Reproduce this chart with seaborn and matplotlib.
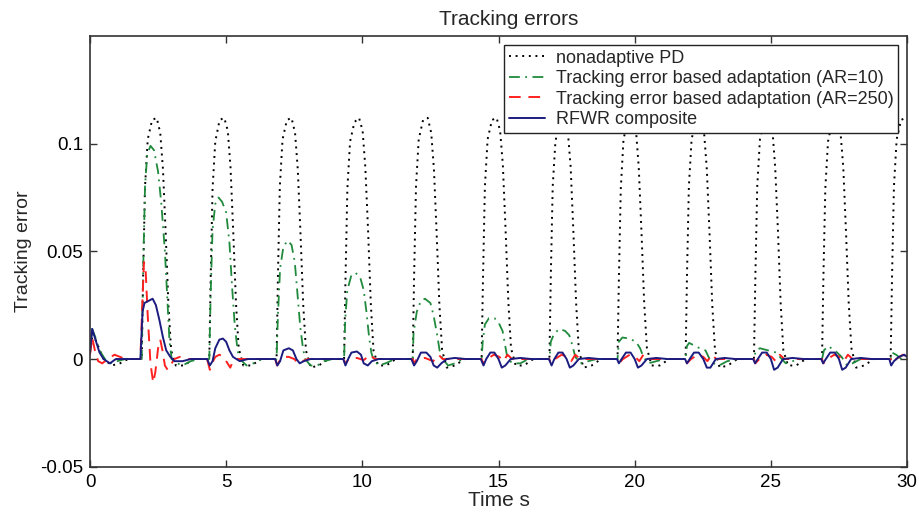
import matplotlib
matplotlib.use("Agg")
import matplotlib.pyplot as plt
import seaborn as sns

# ── Data (time in s, tracking error) ────────────────────────────────────────
pd_t = [0.00, 0.10, 0.30, 0.50, 0.80, 1.10, 1.40,
        1.90, 1.95, 2.02, 2.12, 2.28, 2.45, 2.58, 2.68, 2.78, 2.88, 2.98, 3.15, 3.45, 3.80,
        4.38, 4.43, 4.50, 4.60, 4.76, 4.93, 5.06, 5.16, 5.26, 5.36, 5.46, 5.63, 5.93, 6.28,
        6.85, 6.90, 6.97, 7.07, 7.23, 7.40, 7.53, 7.63, 7.73, 7.83, 7.93, 8.10, 8.40, 8.75,
        9.33, 9.38, 9.45, 9.55, 9.71, 9.88, 10.01, 10.11, 10.21, 10.31, 10.41, 10.58, 10.88, 11.23,
        11.85, 11.90, 11.97, 12.07, 12.23, 12.40, 12.53, 12.63, 12.73, 12.83, 12.93, 13.10, 13.40, 13.75,
        14.38, 14.43, 14.50, 14.60, 14.76, 14.93, 15.06, 15.16, 15.26, 15.36, 15.46, 15.63, 15.93, 16.28,
        16.87, 16.92, 16.99, 17.09, 17.25, 17.42, 17.55, 17.65, 17.75, 17.85, 17.95, 18.12, 18.42, 18.77,
        19.37, 19.42, 19.49, 19.59, 19.75, 19.92, 20.05, 20.15, 20.25, 20.35, 20.45, 20.62, 20.92, 21.27,
        21.87, 21.92, 21.99, 22.09, 22.25, 22.42, 22.55, 22.65, 22.75, 22.85, 22.95, 23.12, 23.42, 23.77,
        24.38, 24.43, 24.50, 24.60, 24.76, 24.93, 25.06, 25.16, 25.26, 25.36, 25.46, 25.63, 25.93, 26.28,
        26.88, 26.93, 27.00, 27.10, 27.26, 27.43, 27.56, 27.66, 27.76, 27.86, 27.96, 28.13, 28.43, 28.78,
        29.40, 29.45, 29.52, 29.62, 29.78, 29.95, 30.00]
pd_v = [0.003, 0.012, 0.006, 0.000, -0.003, -0.002, 0.000,
        0.000, 0.038, 0.080, 0.102, 0.111, 0.112, 0.105, 0.088, 0.058, 0.025, 0.004, -0.003, -0.003, 0.000,
        0.000, 0.037, 0.079, 0.101, 0.111, 0.112, 0.106, 0.089, 0.059, 0.026, 0.005, -0.003, -0.003, 0.000,
        0.000, 0.038, 0.080, 0.102, 0.111, 0.112, 0.105, 0.088, 0.058, 0.025, 0.004, -0.004, -0.003, 0.000,
        0.000, 0.036, 0.079, 0.101, 0.110, 0.112, 0.106, 0.089, 0.060, 0.026, 0.004, -0.003, -0.003, 0.000,
        0.000, 0.038, 0.080, 0.102, 0.111, 0.112, 0.105, 0.088, 0.058, 0.025, 0.004, -0.004, -0.003, 0.000,
        0.000, 0.037, 0.080, 0.102, 0.111, 0.112, 0.106, 0.090, 0.060, 0.027, 0.005, -0.003, -0.003, 0.000,
        0.000, 0.038, 0.080, 0.101, 0.111, 0.112, 0.105, 0.089, 0.059, 0.026, 0.004, -0.004, -0.003, 0.000,
        0.000, 0.037, 0.079, 0.102, 0.111, 0.112, 0.106, 0.089, 0.059, 0.026, 0.005, -0.003, -0.003, 0.000,
        0.000, 0.038, 0.080, 0.102, 0.111, 0.112, 0.105, 0.088, 0.058, 0.025, 0.004, -0.004, -0.003, 0.000,
        0.000, 0.037, 0.080, 0.102, 0.111, 0.112, 0.106, 0.089, 0.060, 0.026, 0.004, -0.003, -0.003, 0.000,
        0.000, 0.038, 0.079, 0.101, 0.111, 0.112, 0.105, 0.089, 0.059, 0.026, 0.005, -0.004, -0.003, 0.000,
        0.000, 0.038, 0.080, 0.102, 0.111, 0.112, 0.112]

ar10_t = [0.00, 0.08, 0.20, 0.35, 0.55, 0.75, 1.00, 1.30,
          1.90, 1.95, 2.02, 2.10, 2.22, 2.35, 2.50, 2.62, 2.75, 2.85, 2.92, 3.00, 3.20, 3.40, 3.70, 4.00,
          4.38, 4.43, 4.50, 4.60, 4.72, 4.85, 5.00, 5.12, 5.22, 5.32, 5.42, 5.50, 5.75, 6.00, 6.30,
          6.85, 6.90, 6.98, 7.10, 7.25, 7.40, 7.52, 7.62, 7.72, 7.82, 7.90, 8.10, 8.35, 8.60, 8.90,
          9.33, 9.37, 9.45, 9.60, 9.75, 9.92, 10.05, 10.15, 10.25, 10.33, 10.40, 10.60, 10.85, 11.20,
          11.85, 11.88, 12.00, 12.15, 12.30, 12.50, 12.62, 12.75, 12.85, 12.95, 13.15, 13.40, 13.70,
          14.38, 14.42, 14.50, 14.65, 14.85, 15.00, 15.15, 15.25, 15.32, 15.50, 15.80, 16.10,
          16.87, 16.92, 17.05, 17.25, 17.45, 17.60, 17.72, 17.82, 18.00, 18.30, 18.60,
          19.37, 19.42, 19.55, 19.80, 20.05, 20.20, 20.32, 20.50, 20.80, 21.10,
          21.87, 21.92, 22.00, 22.30, 22.60, 22.75, 22.90, 23.10, 23.40, 23.80,
          24.38, 24.45, 24.60, 24.90, 25.20, 25.40, 25.55, 25.80, 26.10,
          26.88, 26.95, 27.10, 27.35, 27.60, 27.80, 28.00, 28.30,
          29.40, 29.45, 29.60, 29.80, 30.00]
ar10_v = [0.003, 0.014, 0.010, 0.004, 0.000, -0.002, -0.001, 0.000,
          0.000, 0.040, 0.080, 0.095, 0.099, 0.097, 0.087, 0.072, 0.050, 0.025, 0.008, 0.000, -0.002, -0.003, -0.001, 0.000,
          0.000, 0.030, 0.060, 0.072, 0.075, 0.073, 0.068, 0.054, 0.033, 0.015, 0.004, 0.000, -0.003, -0.002, 0.000,
          0.000, 0.020, 0.042, 0.052, 0.055, 0.053, 0.045, 0.030, 0.015, 0.005, 0.000, -0.003, -0.003, -0.001, 0.000,
          0.000, 0.018, 0.032, 0.039, 0.040, 0.038, 0.032, 0.022, 0.010, 0.003, 0.000, -0.003, -0.002, 0.000,
          0.000, 0.012, 0.022, 0.027, 0.028, 0.026, 0.020, 0.011, 0.003, 0.000, -0.003, -0.002, 0.000,
          0.000, 0.008, 0.016, 0.019, 0.019, 0.017, 0.013, 0.006, 0.001, -0.002, -0.002, 0.000,
          0.000, 0.008, 0.012, 0.014, 0.013, 0.011, 0.006, 0.001, -0.002, -0.001, 0.000,
          0.000, 0.008, 0.010, 0.0095, 0.008, 0.005, 0.001, -0.002, -0.001, 0.000,
          0.000, 0.006, 0.0075, 0.0055, 0.004, 0.000, -0.002, -0.003, -0.001, 0.000,
          0.000, 0.004, 0.005, 0.004, 0.003, 0.000, -0.002, -0.001, 0.000,
          0.000, 0.004, 0.006, 0.004, 0.001, -0.003, -0.002, 0.000,
          0.000, 0.003, 0.002, 0.000, 0.000]

ar250_t = [0.00, 0.08, 0.18, 0.30, 0.45, 0.65, 0.90, 1.10, 1.30,
           1.85, 1.92, 1.98, 2.04, 2.12, 2.22, 2.32, 2.40, 2.50, 2.58, 2.66, 2.75, 2.85, 2.95, 3.10, 3.30, 3.60,
           4.30, 4.40, 4.48, 4.60, 4.75, 4.90, 5.05, 5.15, 5.25, 5.40,
           6.80, 6.87, 6.95, 7.10, 7.30, 7.50, 7.65, 7.80, 8.00,
           9.30, 9.38, 9.50, 9.80, 10.05, 10.30, 10.45,
           11.85, 11.90, 12.00, 12.30, 12.60, 12.80, 12.95,
           14.38, 14.43, 14.58, 14.83, 15.03, 15.18, 15.33, 15.50,
           16.87, 16.92, 17.07, 17.32, 17.52, 17.67, 17.82, 18.00,
           19.37, 19.42, 19.57, 19.82, 20.02, 20.17, 20.32, 20.50,
           21.87, 21.92, 22.07, 22.32, 22.52, 22.67, 22.82, 23.00,
           24.38, 24.43, 24.58, 24.83, 25.03, 25.18, 25.33, 25.50,
           26.88, 26.93, 27.08, 27.33, 27.53, 27.68, 27.83, 28.00,
           29.40, 29.45, 29.60, 29.85, 30.00]
ar250_v = [0.002, 0.010, 0.004, -0.001, -0.002, 0.000, 0.002, 0.001, 0.000,
           0.000, 0.025, 0.045, 0.042, 0.020, -0.002, -0.011, -0.006, 0.005, 0.009, 0.004, -0.003, -0.005, -0.003, 0.000, 0.001, 0.000,
           0.000, -0.005, -0.002, 0.001, 0.002, 0.001, -0.002, -0.004, -0.001, 0.000,
           0.000, -0.003, -0.001, 0.001, 0.001, 0.000, -0.002, -0.001, 0.000,
           0.000, -0.002, 0.000, 0.0005, -0.0005, 0.002, 0.000,
           0.000, -0.002, 0.000, 0.0005, -0.001, 0.002, 0.000,
           0.000, -0.002, 0.000, 0.002, 0.001, -0.001, 0.002, 0.000,
           0.000, -0.002, 0.000, 0.002, 0.001, -0.001, 0.002, 0.000,
           0.000, -0.002, 0.000, 0.002, 0.001, -0.001, 0.002, 0.000,
           0.000, -0.002, 0.000, 0.002, 0.001, -0.001, 0.002, 0.000,
           0.000, -0.002, 0.000, 0.002, 0.001, -0.001, 0.002, 0.000,
           0.000, -0.002, 0.000, 0.002, 0.001, -0.001, 0.002, 0.000,
           0.000, -0.002, 0.000, 0.002, 0.001]

rfwr_t = [0.00, 0.08, 0.20, 0.35, 0.50, 0.73, 0.95,
          1.85, 1.93, 2.00, 2.15, 2.30, 2.42, 2.55, 2.68, 2.80, 2.95, 3.10, 3.40, 3.70,
          4.30, 4.40, 4.50, 4.60, 4.75, 4.88, 5.00, 5.12, 5.25, 5.50, 5.80,
          6.80, 6.88, 6.98, 7.10, 7.30, 7.45, 7.58, 7.70, 7.85, 8.10,
          9.30, 9.38, 9.48, 9.60, 9.80, 9.95, 10.05, 10.20, 10.35, 10.60,
          11.80, 11.90, 12.00, 12.15, 12.35, 12.50, 12.62, 12.75, 12.90, 13.10, 13.40, 13.80,
          14.35, 14.45, 14.55, 14.70, 14.85, 15.00, 15.12, 15.25, 15.45, 15.80, 16.20,
          16.85, 16.95, 17.05, 17.20, 17.35, 17.50, 17.62, 17.75, 17.95, 18.30, 18.70,
          19.35, 19.42, 19.52, 19.68, 19.85, 20.00, 20.12, 20.25, 20.45, 20.80, 21.20,
          21.85, 21.92, 22.02, 22.18, 22.35, 22.52, 22.65, 22.78, 22.98, 23.30, 23.70,
          24.35, 24.42, 24.52, 24.68, 24.85, 25.00, 25.12, 25.25, 25.45, 25.80, 26.20,
          26.85, 26.92, 27.02, 27.18, 27.35, 27.50, 27.62, 27.75, 27.95, 28.30, 28.70,
          29.35, 29.42, 29.52, 29.70, 29.90, 30.00]
rfwr_v = [0.003, 0.014, 0.009, 0.003, 0.000, -0.002, 0.000,
          0.000, 0.022, 0.026, 0.027, 0.028, 0.025, 0.018, 0.010, 0.004, 0.001, -0.001, -0.001, 0.000,
          0.000, -0.003, -0.001, 0.005, 0.009, 0.0095, 0.008, 0.004, 0.001, -0.001, 0.000,
          0.000, -0.003, -0.001, 0.004, 0.005, 0.004, 0.000, -0.002, -0.001, 0.000,
          0.000, -0.003, 0.000, 0.003, 0.0035, 0.002, -0.002, -0.003, -0.001, 0.000,
          0.000, -0.003, -0.001, 0.003, 0.003, 0.001, -0.003, -0.004, -0.002, 0.000, 0.0005, 0.000,
          0.000, -0.003, 0.000, 0.003, 0.003, 0.000, -0.004, -0.003, 0.000, 0.0005, 0.000,
          0.000, -0.003, 0.000, 0.003, 0.003, 0.000, -0.004, -0.003, 0.000, 0.0005, 0.000,
          0.000, -0.002, 0.000, 0.003, 0.003, 0.000, -0.004, -0.003, 0.000, 0.0005, 0.000,
          0.000, -0.002, 0.000, 0.003, 0.003, 0.000, -0.004, -0.004, 0.000, 0.0005, 0.000,
          0.000, -0.002, 0.000, 0.003, 0.003, 0.000, -0.005, -0.004, 0.000, 0.0005, 0.000,
          0.000, -0.002, 0.000, 0.003, 0.003, 0.000, -0.005, -0.004, 0.000, 0.0005, 0.000,
          0.000, -0.003, -0.001, 0.001, 0.002, 0.001]

labels = ["nonadaptive PD",
          "Tracking error based adaptation (AR=10)",
          "Tracking error based adaptation (AR=250)",
          "RFWR composite"]

# ── Plot ─────────────────────────────────────────────────────────────────────
sns.set_style("ticks")
plt.rcParams["font.family"] = ["Liberation Sans", "DejaVu Sans"]
plt.rcParams["font.size"] = 13

fig = plt.figure(figsize=(9.19, 5.15), dpi=100)
ax = fig.add_axes([90 / 919, 1 - 466.7 / 515, 817 / 919, 430.7 / 515])

sns.lineplot(x=pd_t, y=pd_v, ax=ax, color="black", linestyle=(0, (1, 2.4)),
             linewidth=1.4, estimator=None, sort=False, label=labels[0])
sns.lineplot(x=ar10_t, y=ar10_v, ax=ax, color="#1f8a3c", linestyle=(0, (6, 3, 1, 3)),
             linewidth=1.3, estimator=None, sort=False, label=labels[1])
sns.lineplot(x=ar250_t, y=ar250_v, ax=ax, color="#ff2020", linestyle=(0, (6, 4)),
             linewidth=1.4, estimator=None, sort=False, label=labels[2])
sns.lineplot(x=rfwr_t, y=rfwr_v, ax=ax, color="#1c1c80", linestyle="-",
             linewidth=1.4, estimator=None, sort=False, label=labels[3])

ax.set_xlim(0, 30)
ax.set_ylim(-0.05, 0.15)
ax.set_xticks([0, 5, 10, 15, 20, 25, 30])
ax.set_yticks([-0.05, 0, 0.05, 0.1])
ax.set_yticklabels(["-0.05", "0", "0.05", "0.1"])

for side in ["top", "right", "bottom", "left"]:
    ax.spines[side].set_visible(True)
    ax.spines[side].set_color("#333333")
    ax.spines[side].set_linewidth(1.2)
ax.tick_params(direction="in", top=True, right=True, length=5, width=1,
               labelsize=13.5, colors="#333333", labelcolor="black", pad=5)

ax.set_title("Tracking errors", fontsize=15, pad=8, x=0.513)
ax.set_xlabel("Time s", fontsize=15, labelpad=0)
ax.set_ylabel("Tracking error", fontsize=14, labelpad=6)

leg = ax.legend(loc="upper right", fontsize=13, frameon=True, fancybox=False,
                borderaxespad=0.5, handlelength=2.0, handletextpad=0.6,
                borderpad=0.25, labelspacing=0.2)
leg.get_frame().set_edgecolor("#222222")
leg.get_frame().set_linewidth(1.0)
leg.get_frame().set_alpha(1)

fig.savefig("out.png", dpi=100)
